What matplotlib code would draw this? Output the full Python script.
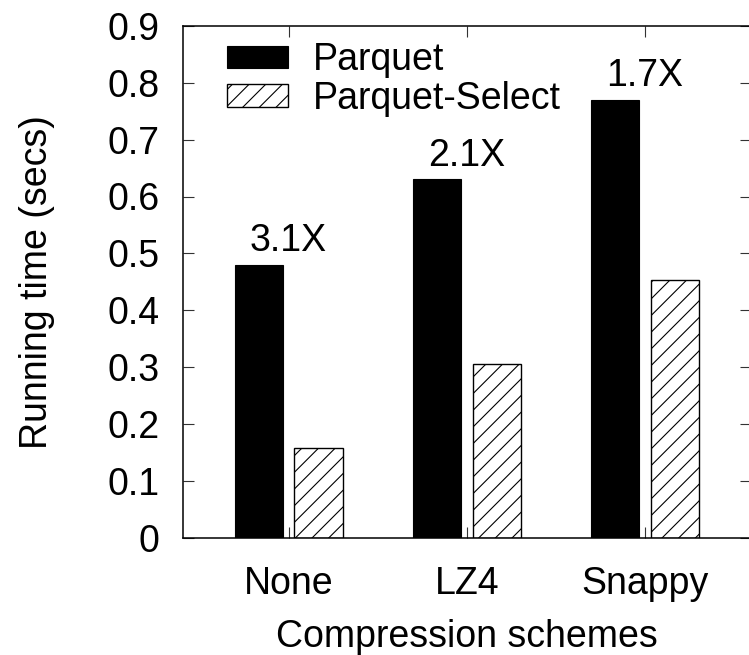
import numpy as np
import matplotlib
matplotlib.use("Agg")
import matplotlib.pyplot as plt

# values
schemes = ["None", "LZ4", "Snappy"]
parquet = [0.48, 0.63, 0.77]
parquet_select = [0.157, 0.305, 0.453]
speedups = ["3.1X", "2.1X", "1.7X"]
yticks = [0, 0.1, 0.2, 0.3, 0.4, 0.5, 0.6, 0.7, 0.8, 0.9]
ytick_labels = ["0", "0.1", "0.2", "0.3", "0.4", "0.5", "0.6", "0.7", "0.8", "0.9"]

plt.rcParams["font.family"] = ["Liberation Sans", "DejaVu Sans"]
plt.rcParams["font.size"] = 27
plt.rcParams["hatch.linewidth"] = 0.8

W, H = 749, 655
fig = plt.figure(figsize=(W / 100, H / 100), dpi=100)
ax = fig.add_axes([182.7 / W, 117.5 / H, 568 / W, 511.5 / H])

x = np.arange(len(schemes))
width = 0.27
ax.bar(x - 0.166, parquet, width, color="black", edgecolor="black",
       linewidth=0.8, label="Parquet")
ax.bar(x + 0.168, parquet_select, width, color="white", edgecolor="black",
       hatch="//", linewidth=1.0, label="Parquet-Select")

for xi, v, s in zip(x, parquet, speedups):
    ax.annotate(s, (xi, v), xytext=(0, 10), textcoords="offset points",
                ha="center", va="baseline")

ax.set_xlim(-0.594, 2.594)
ax.set_ylim(0, 0.9)
ax.set_xticks(x)
ax.set_xticklabels(schemes)
ax.set_yticks(yticks)
ax.set_yticklabels(ytick_labels)

for sp in ax.spines.values():
    sp.set_linewidth(1.1)

ax.tick_params(direction="in", length=8, width=0.8, top=True, right=True,
               color="#333333")
ax.tick_params(axis="y", pad=16.8)
ax.tick_params(axis="x", pad=20.5)

ax.set_xlabel("Compression schemes", labelpad=12)
ax.set_ylabel("Running time (secs)")
ax.yaxis.set_label_coords(-0.225, 0.5)

ax.legend(loc="upper left", bbox_to_anchor=(0.078, 0.968), frameon=False,
          borderpad=0, borderaxespad=0, handlelength=1.63, handleheight=0.55,
          handletextpad=0.65, labelspacing=0.06)

fig.savefig("out.png", dpi=100)
